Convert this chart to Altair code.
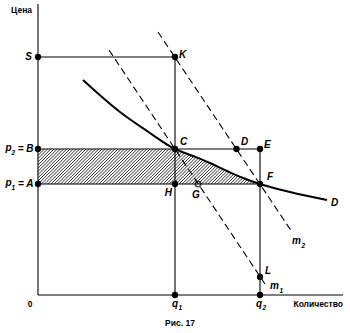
import altair as alt
import pandas as pd
import numpy as np

# ---- data (units: chart units) ----
pt_x = [0, 13.7, 0, 0, 13.7, 19.85, 22.2, 22.2, 13.7, 22.2, 13.7, 22.2]
pt_y = [23.8, 23.8, 14.6, 11.1, 14.6, 14.6, 14.6, 11.1, 11.1, 1.8, 0, 0]
open_x = [16.0]
open_y = [11.1]

demand_x = [4.5, 8.2, 10.9, 13.7, 15.5, 17.2, 18.9, 20.5, 22.2, 25.2, 28.9]
demand_y = [21.5, 18.3, 16.4, 14.6, 13.9, 13.2, 12.4, 11.7, 11.1, 10.3, 9.5]

seg_x1 = [0, 0, 0, 13.7, 0, 0, 22.2]
seg_y1 = [0, 0, 23.8, 23.8, 14.6, 11.1, 14.6]
seg_x2 = [0, 30.5, 13.7, 13.7, 22.2, 22.2, 22.2]
seg_y2 = [29.1, 0, 23.8, 0, 14.6, 11.1, 0]

dash_x1 = [7.1, 12.0]
dash_y1 = [24.5, 26.3]
dash_x2 = [22.7, 25.4]
dash_y2 = [1.1, 6.3]

p1, p2, q2 = 11.1, 14.6, 22.2

# labels
lab_left_text = ["K", "C", "D", "E", "F", "G", "D", "L", "m", "m", "q", "q", "p", "p"]
lab_left_x = [14.1, 14.2, 20.3, 22.6, 22.9, 15.4, 29.3, 22.7, 23.2, 25.4, 13.4, 21.8, -3.25, -3.25]
lab_left_y = [24.0, 15.3, 15.3, 15.0, 11.8, 10.0, 9.2, 2.4, 0.9, 5.4, -0.9, -0.9, 14.7, 11.2]
sub_text = ["1", "2", "1", "2", "2", "1"]
sub_x = [24.15, 26.35, 14.05, 22.45, -2.65, -2.65]
sub_y = [0.45, 4.95, -1.3, -1.3, 14.25, 10.75]
lab_right_text = ["S", "H", "= B", "= A"]
lab_right_x = [-0.6, 13.4, -0.45, -0.45]
lab_right_y = [23.8, 10.2, 14.6, 11.1]
reg_right_text = ["Цена", "Количество"]
reg_right_x = [-0.6, 30.5]
reg_right_y = [28.5, -0.9]
reg_center_text = ["0", "Рис. 17"]
reg_center_x = [-0.8, 14.2]
reg_center_y = [-0.9, -2.8]

# ---- scales ----
XSC = alt.Scale(domain=[0, 30.7], nice=False, zero=False)
YSC = alt.Scale(domain=[0, 29.1], nice=False, zero=False)
FONT = "Liberation Sans"


def X(f):
    return alt.X(f, type="quantitative", scale=XSC, axis=None)


def Y(f):
    return alt.Y(f, type="quantitative", scale=YSC, axis=None)


# hatch lines (decoration of the shaded band)
hx1, hy1, hx2, hy2 = [], [], [], []
for x0 in np.arange(-(p2 - p1), q2, 0.32):
    xs = max(x0, 0.0)
    xe = min(x0 + (p2 - p1), q2)
    if xe <= xs:
        continue
    hx1.append(xs); hy1.append(p1 + (xs - x0))
    hx2.append(xe); hy2.append(p1 + (xe - x0))
hatch_df = pd.DataFrame({"x1": hx1, "y1": hy1, "x2": hx2, "y2": hy2})

hatch = alt.Chart(hatch_df).mark_rule(color="black", strokeWidth=0.8).encode(
    x=X("x1"), y=Y("y1"), x2="x2:Q", y2="y2:Q")

# white cover right of the demand curve inside the band
cov = pd.DataFrame({"x": demand_x, "y": demand_y})
cov = cov[(cov.y >= p1) & (cov.y <= p2)].copy()
cov["xr"] = q2 + 0.05
cover = alt.Chart(cov).mark_area(color="white", orient="horizontal", opacity=1).encode(
    y=Y("y"), x=X("x"), x2="xr:Q")

seg_df = pd.DataFrame({"x1": seg_x1, "y1": seg_y1, "x2": seg_x2, "y2": seg_y2})
segs = alt.Chart(seg_df).mark_rule(color="black", strokeWidth=1.1).encode(
    x=X("x1"), y=Y("y1"), x2="x2:Q", y2="y2:Q")

dash_df = pd.DataFrame({"x1": dash_x1, "y1": dash_y1, "x2": dash_x2, "y2": dash_y2})
dashes = alt.Chart(dash_df).mark_rule(color="black", strokeWidth=1.1, strokeDash=[7, 4]).encode(
    x=X("x1"), y=Y("y1"), x2="x2:Q", y2="y2:Q")

dem_df = pd.DataFrame({"x": demand_x, "y": demand_y})
demand = alt.Chart(dem_df).mark_line(color="black", strokeWidth=2, interpolate="monotone").encode(
    x=X("x"), y=Y("y"))

pts = alt.Chart(pd.DataFrame({"x": pt_x, "y": pt_y})).mark_point(
    filled=True, color="black", size=40, opacity=1, shape="circle").encode(x=X("x"), y=Y("y"))
opn = alt.Chart(pd.DataFrame({"x": open_x, "y": open_y})).mark_point(
    filled=False, color="black", size=30, strokeWidth=1.6, shape="circle").encode(x=X("x"), y=Y("y"))


def txt(texts, xs, ys, align, size, style="normal", weight="normal"):
    df = pd.DataFrame({"x": xs, "y": ys, "t": texts})
    return alt.Chart(df).mark_text(align=align, baseline="middle", font=FONT, fontSize=size,
                                   fontStyle=style, fontWeight=weight, color="black").encode(
        x=X("x"), y=Y("y"), text="t:N")


labels = [
    txt(lab_left_text, lab_left_x, lab_left_y, "left", 10, "italic", "bold"),
    txt(sub_text, sub_x, sub_y, "left", 6.5, "italic", "bold"),
    txt(lab_right_text, lab_right_x, lab_right_y, "right", 10, "italic", "bold"),
    txt(reg_right_text, reg_right_x, reg_right_y, "right", 8.5, "normal", "bold"),
    txt(reg_center_text, reg_center_x, reg_center_y, "center", 8.5, "normal", "bold"),
]

chart = alt.layer(hatch, cover, segs, dashes, demand, pts, opn, *labels).properties(
    width=307, height=291,
    autosize=alt.AutoSizeParams(type="none"),
    padding={"left": 38, "top": 4, "right": 5, "bottom": 38},
    background="white",
).configure_view(stroke=None)

chart.save("out.html", embed_options={"renderer": "svg", "actions": False})
